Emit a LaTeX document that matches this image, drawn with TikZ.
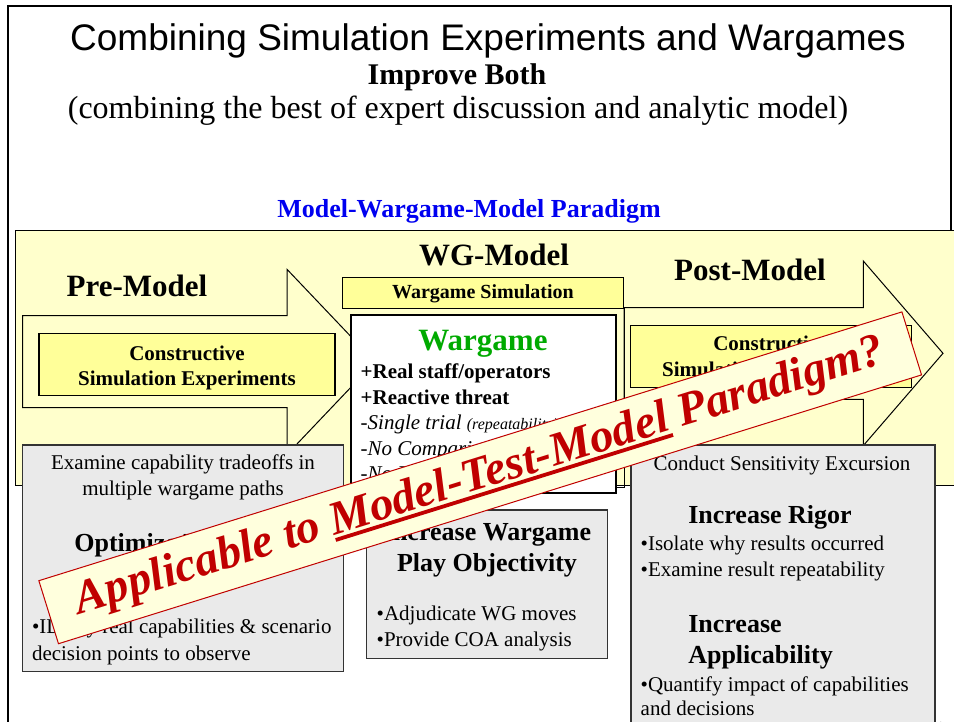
\documentclass[tikz,border=0pt]{standalone}
\usepackage{fontspec}
\setmainfont{Liberation Serif}
\newfontfamily\headsans{Liberation Sans}
\definecolor{panelY}{HTML}{FFFFCC}
\definecolor{boxY}{HTML}{FFFF99}
\definecolor{boxG}{HTML}{EAEAEA}
\definecolor{bannerY}{HTML}{FFFFDD}
\definecolor{bannerR}{HTML}{C00000}
\definecolor{paraB}{HTML}{0000F0}
\definecolor{wgG}{HTML}{00AA00}
\newcommand\fsz[1]{\fontsize{#1}{#1}\selectfont}
% thick underline for the banner phrase
\newcommand\redul[1]{\setbox0\hbox{#1}\rlap{\rule[-7pt]{\wd0}{3.8pt}}\box0\relax}
\begin{document}
\begin{tikzpicture}[x=1pt,y=-1pt,
  txt/.style={inner sep=0pt, outer sep=0pt, anchor=base},
  txtl/.style={inner sep=0pt, outer sep=0pt, anchor=base west},
  plainbox/.style={inner sep=0pt, outer sep=0pt, anchor=north west},
  ybox/.style={plainbox, draw=black, line width=1.2pt, fill=boxY},
  wbox/.style={plainbox, draw=black, line width=2pt, fill=white},
  gbox/.style={plainbox, draw=black!80, line width=1.5pt, fill=boxG},
  blockarrow/.style={draw=black, line width=1pt, fill=panelY, line join=miter},
  body/.style={font=\fsz{21}},
  head/.style={font=\bfseries\fsz{26}},
  phase/.style={font=\bfseries\fsz{31}},
  banner/.style={draw=bannerR, line width=1pt, fill=bannerY, inner sep=0pt,
    minimum width=904pt, minimum height=66pt, text=bannerR,
    font=\bfseries\itshape\fsz{47}}]
\useasboundingbox (0,0) rectangle (954,721);
\clip (0,0) rectangle (954,721);
\fill[white] (0,0) rectangle (954,721);

% slide frame
\draw[line width=2pt] (7.5,740) -- (7.5,6) -- (951,6) -- (951,232);

% heading block
\node[txt, font=\headsans\fsz{37}] (title) at (488,50) {Combining Simulation Experiments and Wargames};
\node[txt, font=\bfseries\fsz{30}] (sub) at (457,84) {Improve Both};
\node[txt, font=\fsz{32}] (note) at (458,118) {(combining the best of expert discussion and analytic model)};
\node[txt, font=\bfseries\fsz{26}, text=paraB] (para) at (469,217) {Model-Wargame-Model Paradigm};

% yellow panel
\draw[line width=1pt, fill=panelY] (15,230) rectangle (965,485);

% phase arrows
\draw[blockarrow] (22.7,315.7) -- (287,315.7) -- (287,269.3) -- (375,361.9)
  -- (287,454.5) -- (287,407.7) -- (22.7,407.7) -- cycle;
\draw[blockarrow] (624,307.7) -- (863.3,307.7) -- (863.3,261) -- (943,353.3)
  -- (863.3,445.6) -- (863.3,399.3) -- (624,399.3) -- cycle;
\draw[line width=1pt] (612,487) -- (624,487) -- (624,308);

% phase labels
\node[txt, phase] (pre) at (137,296.7) {Pre-Model};
\node[txt, phase] (wgm) at (494,265) {WG-Model};
\node[txt, phase] (post) at (750,280.7) {Post-Model};

% constructive simulation boxes
\node[ybox, minimum width=296pt, minimum height=62.4pt] (cpre) at (39,333.3) {};
\node[txt, font=\bfseries\fsz{21}] (cpre1) at (187,360) {Constructive};
\node[txt, font=\bfseries\fsz{21}] (cpre2) at (187,385) {Simulation Experiments};
\node[ybox, minimum width=281pt, minimum height=62pt] (cpost) at (630.7,325.7) {};
\node[txt, font=\bfseries\fsz{21}] (cpost1) at (771,350) {Constructive};
\node[txt, font=\bfseries\fsz{21}] (cpost2) at (771,376.7) {Simulation Experiments};

% wargame simulation
\node[ybox, minimum width=280.6pt, minimum height=30.6pt] (wgs) at (342.7,277.7) {};
\node[txt, font=\bfseries\fsz{20}] (wgs1) at (483,298.3) {Wargame Simulation};
\node[wbox, minimum width=265.2pt, minimum height=178.3pt] (wg) at (350.5,315) {};
\node[txt, font=\bfseries\fsz{31}, text=wgG] (wg0) at (483,350) {Wargame};
\node[txtl, font=\bfseries\fsz{21}] (wg1) at (360.7,378.3) {+Real staff/operators};
\node[txtl, font=\bfseries\fsz{21}] (wg2) at (360.7,404.3) {+Reactive threat};
\node[txtl, font=\itshape\fsz{21}] (wg3) at (360.7,429.3) {-Single trial {\fsz{16}(repeatability)}};
\node[txtl, font=\itshape\fsz{21}] (wg4) at (360.7,455) {-No Comparisons};
\node[txtl, font=\itshape\fsz{21}] (wg5) at (360.7,480) {-No Excursions};

% page number
\node[txtl, font=\fsz{20}] (pg) at (925,735) {21};

% result boxes
\node[gbox, minimum width=320.6pt, minimum height=226.7pt] (gl) at (22.7,445) {};
\node[txt, body] (gl1) at (183,469.3) {Examine capability tradeoffs in};
\node[txt, body] (gl2) at (183,495) {multiple wargame paths};
\node[txt, head] (gl3) at (183,551.7) {Optimize Wargame};
\node[txt, head] (gl4) at (183,581) {Efficiency};
\node[txtl, body] (gl5) at (32,633.3) {•ID key real capabilities \& scenario};
\node[txtl, body] (gl6) at (32,660) {decision points to observe};

\node[gbox, minimum width=240.6pt, minimum height=148.3pt] (gm) at (366.7,510) {};
\node[txt, head] (gm1) at (487,540) {Increase Wargame};
\node[txt, head] (gm2) at (487,571.7) {Play Objectivity};
\node[txtl, body] (gm3) at (376.7,620) {•Adjudicate WG moves};
\node[txtl, body] (gm4) at (376.7,646.7) {•Provide COA analysis};

\node[gbox, minimum width=304pt, minimum height=305pt] (gr) at (631,445) {};
\node[txt, body] (gr1) at (782,470) {Conduct Sensitivity Excursion};
\node[txtl, head] (gr2) at (688.3,523.3) {Increase Rigor};
\node[txtl, body] (gr3) at (640.7,550) {•Isolate why results occurred};
\node[txtl, body] (gr4) at (640.7,576) {•Examine result repeatability};
\node[txtl, head] (gr5) at (688.3,632.7) {Increase};
\node[txtl, head] (gr6) at (688.3,663.3) {Applicability};
\node[txtl, body] (gr7) at (640.7,691.7) {•Quantify impact of capabilities};
\node[txtl, body] (gr8) at (640.7,715) {and decisions};

% overlaid question banner
\node[banner, rotate=17.3] (bn) at (480.2,477.8)
  {Applicable to \redul{Model-Test-Model} Paradigm?};
\end{tikzpicture}
\end{document}
